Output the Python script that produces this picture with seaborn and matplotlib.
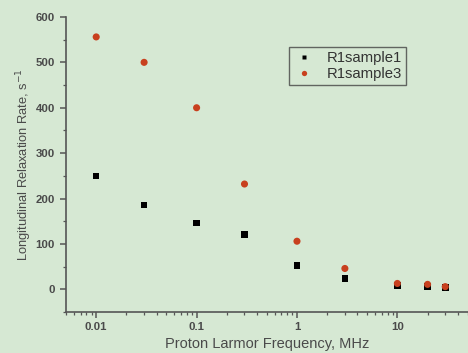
import numpy as np
import pandas as pd
import matplotlib
matplotlib.use("Agg")
import matplotlib.pyplot as plt
import seaborn as sns
from matplotlib.ticker import LogLocator, MultipleLocator, FuncFormatter

freq = [0.01, 0.03, 0.1, 0.3, 1, 3, 10, 20, 30]
r1_sample1 = [250, 186, 146, 121, 53, 24, 9, 6, 4]
r1_sample3 = [556, 500, 400, 232, 106, 46, 13, 11, 6]
series_names = ["R1sample1", "R1sample3"]

df = pd.DataFrame({
    "freq": freq * 2,
    "rate": r1_sample1 + r1_sample3,
    "series": [series_names[0]] * len(freq) + [series_names[1]] * len(freq),
})

bg = "#d6e8d3"
txt = "#4a4a4a"
sns.set_theme(style="ticks")
plt.rcParams["font.family"] = ["Liberation Sans", "DejaVu Sans"]

fig = plt.figure(figsize=(4.68, 3.53), dpi=100, facecolor=bg)
ax = fig.add_axes([0.141, 0.116, 0.858, 0.836])
ax.set_facecolor(bg)

sns.scatterplot(data=df, x="freq", y="rate", hue="series", style="series",
                size="series",
                palette={"R1sample1": "#000000", "R1sample3": "#c8401e"},
                markers={"R1sample1": "s", "R1sample3": "o"},
                sizes={"R1sample1": 22, "R1sample3": 26},
                edgecolor="none", ax=ax, legend=True)

ax.set_xscale("log")
ax.set_xlim(0.005, 50)
ax.set_ylim(-50, 600)
ax.yaxis.set_major_locator(MultipleLocator(100))
ax.yaxis.set_minor_locator(MultipleLocator(50))
ax.xaxis.set_major_locator(LogLocator(base=10, numticks=10))
ax.xaxis.set_minor_locator(LogLocator(base=10, subs=np.arange(2, 10), numticks=20))
ax.xaxis.set_major_formatter(FuncFormatter(lambda v, p: f"{v:g}"))
ax.xaxis.set_minor_formatter(FuncFormatter(lambda v, p: ""))

for side in ["top", "right"]:
    ax.spines[side].set_visible(False)
for side in ["left", "bottom"]:
    ax.spines[side].set_color("#555555")
    ax.spines[side].set_linewidth(1.2)

ax.tick_params(which="major", direction="out", length=4, width=1.1, color="#555555",
               labelsize=8.2, labelcolor=txt, pad=4)
ax.tick_params(axis="x", which="major", pad=3)
ax.tick_params(which="minor", direction="out", length=2.5, width=0.9, color="#555555")
for lab in ax.get_xticklabels() + ax.get_yticklabels():
    lab.set_fontweight("bold")

ax.set_xlabel("Proton Larmor Frequency, MHz", fontsize=10.5, color=txt, labelpad=4)
ax.set_ylabel("Longitudinal Relaxation Rate, s$^{-1}$", fontsize=9.3, color=txt, labelpad=1)

leg = ax.legend(loc="upper left", bbox_to_anchor=(0.555, 0.898), frameon=True,
                fancybox=False, edgecolor="#444444", facecolor=bg, fontsize=10.7,
                borderpad=0.25, borderaxespad=0, handletextpad=0.7,
                labelspacing=0.15, handlelength=1.6, markerscale=0.75)
leg.get_frame().set_linewidth(1.0)
for t in leg.get_texts():
    t.set_color("#333333")

fig.savefig("out.png", dpi=100, facecolor=bg)
